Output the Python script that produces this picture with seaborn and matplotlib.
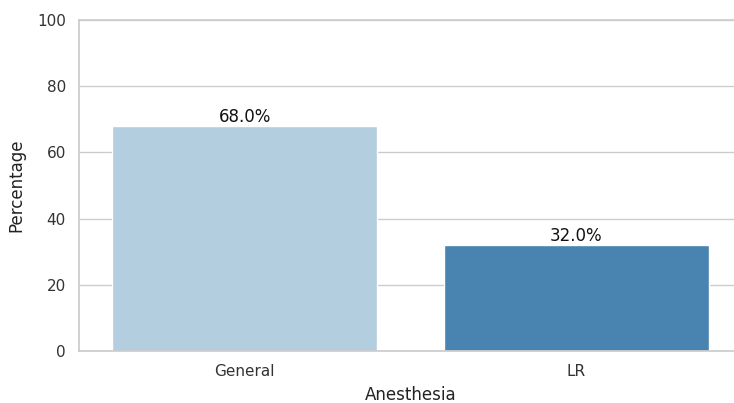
import pandas as pd
import seaborn as sns
import matplotlib.pyplot as plt

sns.set_theme(style='whitegrid')

anesthesia = ['General', 'LR']
percentage = [68.0, 32.0]

df = pd.DataFrame({'Anesthesia': anesthesia, 'Percentage': percentage})

fig = plt.figure(figsize=(7.34, 4.03), dpi=100)
ax = fig.add_axes([79 / 734, 52 / 403, 663 / 734, 331 / 403])

sns.barplot(data=df, x='Anesthesia', y='Percentage', hue='Anesthesia',
            palette='Blues', legend=False, ax=ax)

ax.set_ylim(0, 100)
ax.set_yticks([0, 20, 40, 60, 80, 100])
ax.tick_params(labelsize=11, colors='#333333')
ax.set_xlabel('Anesthesia', fontsize=12, color='#222222', labelpad=5)
ax.set_ylabel('Percentage', fontsize=12, color='#222222', labelpad=8)

for c in ax.containers:
    ax.bar_label(c, fmt='%.1f%%', fontsize=12, color='#111111', padding=0)

fig.savefig('out.png', dpi=100)
